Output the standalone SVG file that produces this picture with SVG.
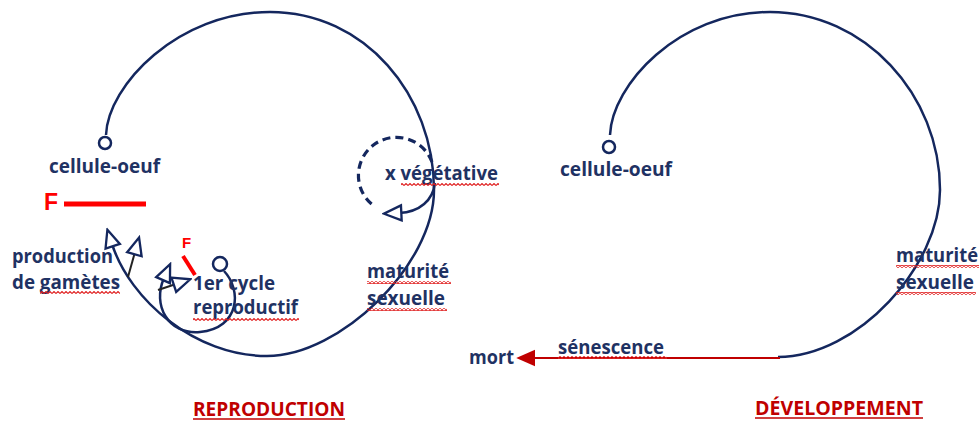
<svg xmlns="http://www.w3.org/2000/svg" width="979" height="421" viewBox="0 0 979 421">
<style>
.t{font-family:"Open Sans","Liberation Sans",sans-serif;font-weight:bold;font-size:19px;fill:#1f3263}
.title{font-family:"Open Sans","Liberation Sans",sans-serif;font-weight:bold;font-size:19px;fill:#c00000}
.redF{font-family:"Liberation Sans",sans-serif;font-weight:bold;fill:#ff0000}
.curve{fill:none;stroke:#14275e;stroke-width:2.5}
.thin{fill:none;stroke:#222;stroke-width:2}
.dot{fill:#fff;stroke:#14275e;stroke-width:2.5}
.wave{fill:url(#wave)}
</style>
<defs>
<pattern id="wave" patternUnits="userSpaceOnUse" width="4" height="3">
<path d="M0,2.5 L2,0.5 L4,2.5" fill="none" stroke="#e02020" stroke-width="1.1"/>
</pattern>
<marker id="open" markerUnits="userSpaceOnUse" markerWidth="22" markerHeight="22" viewBox="-2 -9 19 18" refX="2" refY="0" orient="auto">
<path d="M0,-6.5 L15,0 L0,6.5 Z" fill="#fff" stroke="#14275e" stroke-width="2"/>
</marker>
<marker id="redhead" markerUnits="userSpaceOnUse" markerWidth="20" markerHeight="20" viewBox="0 -8 18 16" refX="1" refY="0" orient="auto">
<path d="M0,-7.5 L17,0 L0,7.5 Z" fill="#c00000"/>
</marker>
</defs>
<rect width="979" height="421" fill="#fff"/>

<g id="connectors">
<path class="curve" d="M106,135 C108,85 178,12 270,12 C365,12 434,95 434,190 C434,265 340,356 267,356 C195,356 130,300 112,244" marker-end="url(#open)"/>
<path class="thin" d="M128,277 L135,252" marker-end="url(#open)"/>
<path class="curve" d="M224,271 C242,290 240,328 200,332 C168,335 152,305 164,278" marker-end="url(#open)"/>
<path class="thin" d="M158,290 L176,284" marker-end="url(#open)"/>
<path d="M432,162 A38,38 0 1 0 374,206" fill="none" stroke="#14275e" stroke-width="3.2" stroke-dasharray="8,5"/>
<path class="curve" d="M435,183 C433,200 420,212 399,213" marker-end="url(#open)"/>
<path class="curve" d="M610,135 C612,85 678,12 770,12 C865,12 940,95 940,190 C940,265 858,357 778,357"/>
<path d="M780,358 L534,358" fill="none" stroke="#c00000" stroke-width="2" marker-end="url(#redhead)"/>
<line x1="64" y1="204" x2="146" y2="204" stroke="#ff0000" stroke-width="5"/>
<line x1="183" y1="256" x2="195" y2="275" stroke="#ff0000" stroke-width="4"/>
</g>

<g id="reproduction">
<circle class="dot" cx="105" cy="143" r="6"/>
<circle class="dot" cx="220" cy="264" r="7"/>
<text class="t" x="49" y="173" textLength="111" lengthAdjust="spacingAndGlyphs">cellule-oeuf</text>
<text class="redF" x="44" y="210" font-size="23">F</text>
<text class="redF" x="182" y="248" font-size="15">F</text>
<text class="t" x="12" y="263" textLength="101" lengthAdjust="spacingAndGlyphs">production</text>
<text class="t" x="12" y="289" textLength="108" lengthAdjust="spacingAndGlyphs">de gamètes</text>
<rect class="wave" x="40" y="291" width="80" height="3"/>
<text class="t" x="193" y="290" textLength="82" lengthAdjust="spacingAndGlyphs">1er cycle</text>
<text class="t" x="193" y="314" textLength="105" lengthAdjust="spacingAndGlyphs">reproductif</text>
<rect class="wave" x="193" y="318" width="106" height="3"/>
<text class="t" x="385" y="180" textLength="113" lengthAdjust="spacingAndGlyphs">x végétative</text>
<rect class="wave" x="401" y="183" width="98" height="3"/>
<text class="t" x="367" y="278" textLength="82" lengthAdjust="spacingAndGlyphs">maturité</text>
<rect class="wave" x="367" y="281" width="84" height="3"/>
<text class="t" x="367" y="305" textLength="78" lengthAdjust="spacingAndGlyphs">sexuelle</text>
<rect class="wave" x="367" y="308" width="80" height="3"/>
<text class="title" x="193" y="416" textLength="152" lengthAdjust="spacingAndGlyphs">REPRODUCTION</text>
<line x1="193" y1="419" x2="345" y2="419" stroke="#c00000" stroke-width="1.5"/>
</g>

<g id="developpement">
<circle class="dot" cx="609" cy="147" r="6"/>
<text class="t" x="560" y="176" textLength="112" lengthAdjust="spacingAndGlyphs">cellule-oeuf</text>
<text class="t" x="896" y="262" textLength="82" lengthAdjust="spacingAndGlyphs">maturité</text>
<rect class="wave" x="896" y="265" width="83" height="3"/>
<text class="t" x="896" y="289" textLength="78" lengthAdjust="spacingAndGlyphs">sexuelle</text>
<rect class="wave" x="896" y="292" width="80" height="3"/>
<text class="t" x="558" y="354" textLength="106" lengthAdjust="spacingAndGlyphs">sénescence</text>
<rect class="wave" x="558" y="356" width="109" height="3"/>
<text class="t" x="469" y="364" textLength="45" lengthAdjust="spacingAndGlyphs">mort</text>
<text class="title" x="755" y="415" textLength="168" lengthAdjust="spacingAndGlyphs">DÉVELOPPEMENT</text>
<line x1="755" y1="418" x2="923" y2="418" stroke="#c00000" stroke-width="1.5"/>
</g>
</svg>
